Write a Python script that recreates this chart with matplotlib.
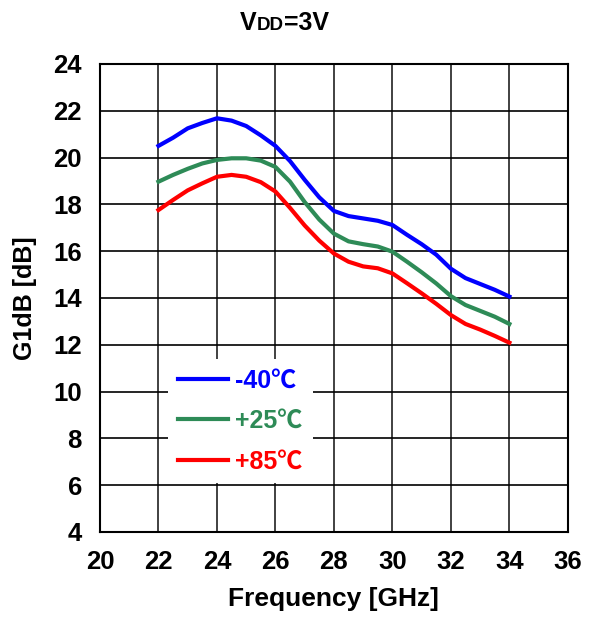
import numpy as np
import matplotlib
matplotlib.use('Agg')
import matplotlib.pyplot as plt

plt.rcParams['font.family'] = ['Liberation Sans', 'DejaVu Sans']
plt.rcParams['font.weight'] = 'bold'

#%% data (G1dB vs frequency, VDD=3V)
freq = [22, 22.5, 23, 23.5, 24, 24.5, 25, 25.5, 26, 26.5, 27, 27.5, 28,
        28.5, 29, 29.5, 30, 30.5, 31, 31.5, 32, 32.5, 33, 33.5, 34]
g_m40 = [20.5, 20.85, 21.25, 21.48, 21.68, 21.58, 21.35, 20.95, 20.5, 19.85,
         19.05, 18.3, 17.72, 17.5, 17.4, 17.3, 17.12, 16.7, 16.3, 15.85,
         15.25, 14.85, 14.6, 14.35, 14.06]
g_p25 = [18.97, 19.26, 19.52, 19.75, 19.9, 19.97, 19.97, 19.87, 19.6, 18.97,
         18.1, 17.35, 16.75, 16.42, 16.3, 16.2, 15.98, 15.55, 15.1, 14.62,
         14.08, 13.7, 13.45, 13.2, 12.89]
g_p85 = [17.76, 18.19, 18.6, 18.9, 19.18, 19.26, 19.18, 18.95, 18.55, 17.85,
         17.1, 16.45, 15.9, 15.55, 15.35, 15.27, 15.05, 14.63, 14.2, 13.75,
         13.27, 12.89, 12.65, 12.38, 12.09]
labels = ['-40\u2103', '+25\u2103', '+85\u2103']
colors = ['#0000FF', '#2E8B57', '#FF0000']

xticks = np.arange(20, 37, 2)
yticks = np.arange(4, 25, 2)

#%% plot
fig = plt.figure(figsize=(5.93, 6.33), dpi=100)
ax = fig.add_axes([0.1686, 0.1596, 0.789, 0.7393])

for g, c, lab in zip([g_m40, g_p25, g_p85], colors, labels):
    ax.plot(freq, g, color=c, linewidth=3, label=lab, zorder=3)

ax.set_xlim(20, 36)
ax.set_ylim(4, 24)
ax.set_xticks(xticks)
ax.set_yticks(yticks)
ax.tick_params(axis='both', length=0, labelsize=18.5)
ax.tick_params(axis='x', pad=13)
ax.tick_params(axis='y', pad=13)
for lbl in ax.get_xticklabels() + ax.get_yticklabels():
    lbl.set_fontweight('bold')

ax.xaxis.grid(True, color='#333333', linewidth=1.3)
ax.yaxis.grid(True, color='black', linewidth=1.2)
for s in ax.spines.values():
    s.set_linewidth(1.5)

ax.set_xlabel('Frequency [GHz]', fontsize=19, fontweight='bold', labelpad=9)
ax.set_ylabel('G1dB [dB]', fontsize=18, fontweight='bold', labelpad=12)

leg = ax.legend(loc='upper left', bbox_to_anchor=(0.145, 0.37), frameon=True,
                facecolor='white', edgecolor='none', framealpha=1, fancybox=False,
                handlelength=2.0, handletextpad=0.3, labelspacing=0.65,
                labelcolor='linecolor', borderaxespad=0,
                prop={'family': ['Liberation Sans', 'Noto Sans CJK JP'],
                      'weight': 'bold', 'size': 18})
leg.set_zorder(5)

# title with small DD, pieces placed one after another
fig.canvas.draw()
r = fig.canvas.get_renderer()
xpos = 240
for txt, fs in [('V', 18), ('DD', 13.5), ('=3V', 18)]:
    t = fig.text(xpos / 593, 1 - 30 / 633, txt, fontsize=fs, fontweight='bold',
                 ha='left', va='baseline')
    xpos += t.get_window_extent(renderer=r).width

fig.savefig('out.png', dpi=100)
